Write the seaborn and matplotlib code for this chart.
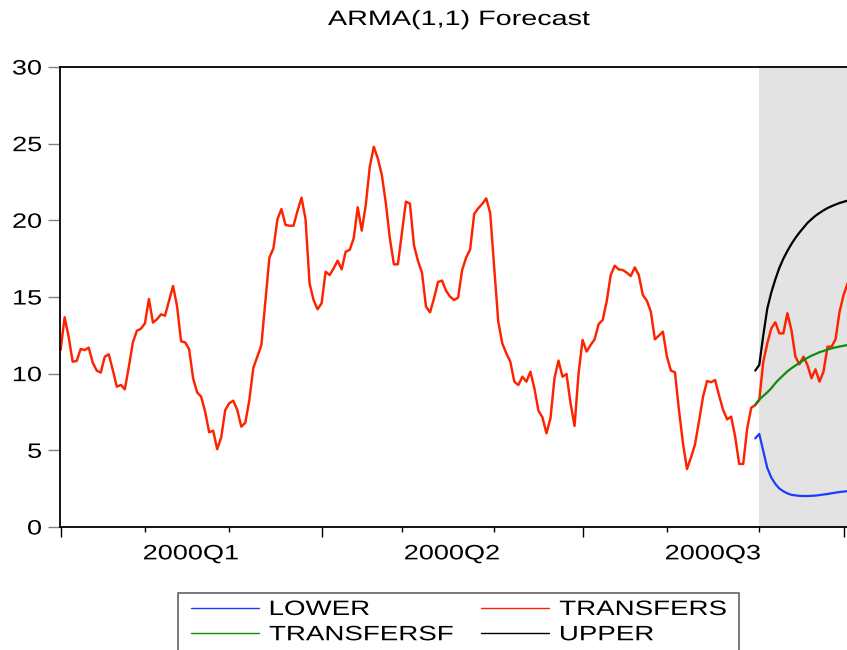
import numpy as np
import pandas as pd
import matplotlib
matplotlib.use("Agg")
import matplotlib.pyplot as plt
import seaborn as sns
from matplotlib.patheffects import AbstractPathEffect
from matplotlib.transforms import Affine2D
from matplotlib.patches import Rectangle

# ---- data -------------------------------------------------------------
start_date = "2000-01-03"       # first business day of the sample
forecast_start = "2000-08-31"   # first forecast observation
shade_start = "2000-09-01"      # start of the shaded forecast period

transfers = [
    11.54, 13.68, 12.41, 10.78, 10.83, 11.61, 11.54, 11.70, 10.72, 10.20,
    10.07, 11.11, 11.26, 10.24, 9.15, 9.26, 8.98, 10.46, 12.04, 12.80,
    12.93, 13.28, 14.87, 13.33, 13.55, 13.87, 13.78, 14.76, 15.72, 14.41,
    12.11, 12.04, 11.61, 9.70, 8.78, 8.50, 7.52, 6.18, 6.28, 5.07,
    5.85, 7.63, 8.07, 8.24, 7.63, 6.54, 6.80, 8.28, 10.38, 11.11,
    11.87, 14.70, 17.57, 18.17, 20.07, 20.74, 19.70, 19.65, 19.65, 20.61,
    21.48, 20.07, 15.89, 14.80, 14.20, 14.59, 16.65, 16.43, 16.87, 17.37,
    16.80, 17.96, 18.07, 18.83, 20.85, 19.33, 21.00, 23.50, 24.80, 24.04,
    22.96, 21.11, 18.83, 17.13, 17.13, 19.15, 21.22, 21.09, 18.39, 17.35,
    16.59, 14.37, 14.00, 14.91, 15.98, 16.07, 15.41, 15.02, 14.80, 14.96,
    16.76, 17.57, 18.11, 20.41, 20.78, 21.07, 21.43, 20.46, 16.87, 13.39,
    11.98, 11.33, 10.78, 9.48, 9.26, 9.80, 9.48, 10.13, 9.04, 7.59,
    7.15, 6.11, 7.09, 9.70, 10.85, 9.80, 9.98, 8.07, 6.59, 10.02,
    12.20, 11.44, 11.87, 12.24, 13.24, 13.50, 14.70, 16.43, 17.04, 16.80,
    16.76, 16.59, 16.37, 16.93, 16.43, 15.13, 14.76, 14.04, 12.24, 12.48,
    12.74, 11.11, 10.20, 10.09, 7.63, 5.46, 3.78, 4.54, 5.39, 6.91,
    8.50, 9.52, 9.44, 9.59, 8.57, 7.63, 7.02, 7.20, 5.89, 4.11,
    4.11, 6.44, 7.78, 7.95, 8.28, 10.78, 11.98, 12.96, 13.35, 12.63,
    12.63, 13.94, 12.85, 11.11, 10.61, 11.11, 10.57, 9.70, 10.28, 9.48,
    10.13, 11.76, 11.76, 12.24, 14.04, 15.13, 15.89,
]

transfersf = [
    7.99, 8.32, 8.55, 8.78, 9.05, 9.38, 9.65, 9.90, 10.15, 10.35,
    10.53, 10.70, 10.88, 11.03, 11.17, 11.28, 11.40, 11.48, 11.57, 11.65,
    11.71, 11.77, 11.82, 11.87,
]
upper = [
    10.20, 10.57, 12.50, 14.25, 15.30, 16.15, 16.90, 17.50, 18.00, 18.45,
    18.85, 19.20, 19.52, 19.83, 20.07, 20.30, 20.48, 20.65, 20.80, 20.92,
    21.03, 21.13, 21.21, 21.28,
]
lower = [
    5.78, 6.07, 4.95, 3.85, 3.22, 2.81, 2.51, 2.33, 2.19, 2.10,
    2.06, 2.03, 2.02, 2.02, 2.03, 2.05, 2.08, 2.12, 2.15, 2.20,
    2.24, 2.28, 2.31, 2.34,
]

y_ticks = [0, 5, 10, 15, 20, 25, 30]
title = "ARMA(1,1) Forecast"

# ---- styling ----------------------------------------------------------
RED, GREEN, BLUE, BLACK = "#ff2200", "#0c8c0c", "#1a3cff", "#000000"
SHADE = "#e3e3e3"
FS = 15          # font size in points
WIDEN = 1.30     # horizontal glyph widening


class Widen(AbstractPathEffect):
    """Draw glyph outlines widened horizontally about an anchor edge."""

    def __init__(self, factor, anchor="center"):
        super().__init__()
        self.factor = factor
        self.anchor = anchor

    def draw_path(self, renderer, gc, tpath, affine, rgbFace=None):
        ext = tpath.get_extents(affine)
        if self.anchor == "left":
            x0 = ext.x0
        elif self.anchor == "right":
            x0 = ext.x1
        else:
            x0 = 0.5 * (ext.x0 + ext.x1)
        wide = affine + Affine2D().translate(-x0, 0).scale(self.factor, 1).translate(x0, 0)
        renderer.draw_path(gc, tpath, wide, rgbFace)


sns.set_theme(style="ticks", rc={
    "axes.edgecolor": "black", "text.color": "black",
    "xtick.color": "black", "ytick.color": "black",
})
plt.rcParams["font.family"] = ["Liberation Sans", "DejaVu Sans"]

# ---- observation axis (5-day business calendar) ------------------------
dates = pd.bdate_range(start_date, periods=len(transfers))
obs = np.arange(len(dates))
f0 = dates.get_loc(pd.Timestamp(forecast_start))
f_obs = obs[f0:f0 + len(upper)]
s0 = dates.get_loc(pd.Timestamp(shade_start))

months = np.asarray(dates.month)
month_starts = obs[np.r_[True, months[1:] != months[:-1]]]
quarter_starts = [i for i in month_starts if months[i] in (1, 4, 7, 10)]
other_months = [i for i in month_starts if i not in quarter_starts]
q_centers = [(a + b) / 2 for a, b in zip(quarter_starts[:-1], quarter_starts[1:])]
q_labels = [f"{dates[i].year}Q{(months[i] - 1) // 3 + 1}" for i in quarter_starts[:-1]]

# ---- figure -----------------------------------------------------------
W, H = 847, 650
fig = plt.figure(figsize=(W / 100, H / 100), dpi=100)
ax = fig.add_axes([60 / W, (H - 527) / H, (W - 60) / W, 460 / H])
x_lo, x_hi = -0.15, 195.85
ax.set_xlim(x_lo, x_hi)
ax.set_ylim(0, 30)

ax.axvspan(s0, x_hi, color=SHADE, lw=0, zorder=0)

series = [
    ("LOWER", f_obs, lower, BLUE, 1.6),
    ("TRANSFERS", obs, transfers, RED, 1.75),
    ("TRANSFERSF", f_obs, transfersf, GREEN, 1.6),
    ("UPPER", f_obs, upper, BLACK, 1.6),
]
for name, xs, ys, col, lw in series:
    sns.lineplot(x=xs, y=ys, ax=ax, color=col, lw=lw, label=name, legend=False)
if ax.get_legend() is not None:
    ax.get_legend().remove()

# spines
for side in ("top", "left", "bottom"):
    ax.spines[side].set_linewidth(1.3)
    ax.spines[side].set_color("black")
ax.spines["right"].set_visible(False)

# y axis
ax.set_yticks(y_ticks)
ax.tick_params(axis="y", direction="out", length=8.5, width=1.0, color="#808080",
               pad=4.5, labelsize=FS, left=True)

# x axis: long marks at quarter starts, short marks at month starts
ax.set_xticks(quarter_starts)
ax.set_xticks(other_months, minor=True)
ax.tick_params(axis="x", which="major", direction="out", length=7.2, width=1.0,
               color="black", labelbottom=False, bottom=True)
ax.tick_params(axis="x", which="minor", direction="out", length=3.6, width=1.0,
               color="black", bottom=True)
ax.set_xlabel("")
ax.set_ylabel("")

qax = ax.secondary_xaxis("bottom")
qax.set_xticks(q_centers, labels=q_labels)
qax.tick_params(length=0, pad=12.5, labelsize=FS)
qax.spines["bottom"].set_visible(False)

# title
ttl = fig.text(459 / W, 1 - 19.5 / H, title, ha="center", va="center", fontsize=FS)

# legend (row-wise: LOWER, TRANSFERS / TRANSFERSF, UPPER)
lines = {ln.get_label(): ln for ln in ax.get_lines()}
order = ["LOWER", "TRANSFERSF", "TRANSFERS", "UPPER"]
leg = fig.legend([lines[k] for k in order], order, ncol=2, loc="upper left",
                 bbox_to_anchor=(191 / W, 1 - 600 / H), frameon=False,
                 fontsize=FS, handlelength=3.27, handletextpad=0.48,
                 columnspacing=3.48, borderpad=0, borderaxespad=0,
                 labelspacing=0.3)
for ln in leg.get_lines():
    ln.set_linewidth(1.0)
fig.add_artist(Rectangle((178 / W, (H - 665) / H), 561 / W, 72 / H,
                         transform=fig.transFigure, fill=False,
                         edgecolor="#555555", lw=1.1))

# widened lettering
ttl.set_path_effects([Widen(1.38, "center")])
for t in ax.get_yticklabels():
    t.set_path_effects([Widen(WIDEN, "right")])
for t in qax.get_xticklabels():
    t.set_path_effects([Widen(WIDEN, "center")])
for t in leg.get_texts():
    t.set_path_effects([Widen(1.33, "left")])

fig.savefig("out.png", dpi=100)
